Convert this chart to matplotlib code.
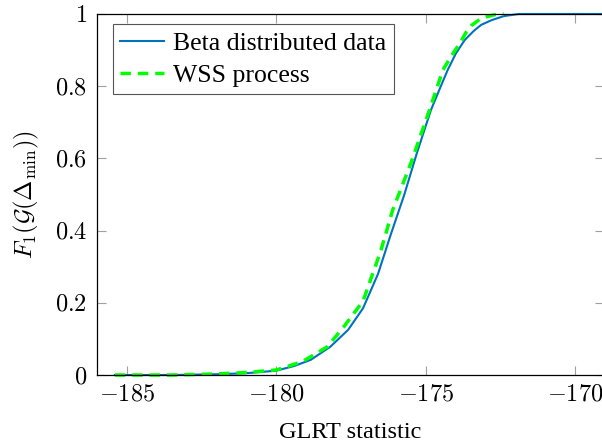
import matplotlib.pyplot as plt

# CDF curves
beta_x = [-185.4, -183.5, -182.0, -181.0, -180.0, -179.4, -178.85, -178.2, -177.6, -177.1,
          -176.6, -176.17, -175.72, -175.3, -174.83, -174.5, -174.27, -174.0, -173.7,
          -173.4, -173.15, -172.8, -172.4, -171.9, -169.0]
beta_y = [0.0, 0.0, 0.002, 0.005, 0.012, 0.025, 0.042, 0.078, 0.125, 0.185,
          0.28, 0.39, 0.50, 0.615, 0.734, 0.80, 0.845, 0.89, 0.928,
          0.953, 0.97, 0.983, 0.994, 1.0, 1.0]

wss_x = [-185.4, -183.5, -182.0, -181.0, -180.0, -179.13, -178.3, -177.74, -177.1, -176.5,
         -176.11, -175.5, -174.88, -174.43, -174.1, -173.87, -173.65, -173.48, -173.2,
         -172.98, -172.7, -172.4]
wss_y = [0.0, 0.0, 0.003, 0.007, 0.014, 0.037, 0.078, 0.134, 0.205, 0.346,
         0.457, 0.587, 0.734, 0.845, 0.89, 0.918, 0.95, 0.968, 0.985,
         0.992, 0.998, 1.0]

x_ticks = [-185, -180, -175, -170]
y_ticks = [0, 0.2, 0.4, 0.6, 0.8, 1]
y_tick_labels = ["0", "0.2", "0.4", "0.6", "0.8", "1"]

plt.rcParams['mathtext.fontset'] = 'cm'
plt.rcParams['font.family'] = 'serif'
plt.rcParams['font.serif'] = ['Liberation Serif', 'DejaVu Serif']

fs = 17.5
fig = plt.figure(figsize=(6.02, 4.44), dpi=100)
ax = fig.add_axes([0.161, 0.1554, 0.842, 0.8131])

ax.plot(beta_x, beta_y, color='#0072BD', linewidth=1.5, label='Beta distributed data', clip_on=False)
ax.plot(wss_x, wss_y, color='#00FF00', linewidth=2.5, linestyle=(0, (3, 2)), label='WSS process', clip_on=False)

ax.set_xlim(-186, -169.05)
ax.set_ylim(0, 1)
ax.set_xticks(x_ticks)
ax.set_xticklabels([f"$-{abs(t)}$" for t in x_ticks])
ax.set_yticks(y_ticks)
ax.set_yticklabels([f"${s}$" for s in y_tick_labels])
ax.tick_params(direction='in', length=6.5, width=0.8, color='#a0a0a0',
               top=True, right=True, labelsize=fs, pad=7)
for s in ax.spines.values():
    s.set_linewidth(0.9)

ax.set_xlabel("GLRT statistic", fontsize=fs, labelpad=12)
ax.set_ylabel(r"$F_1(\mathcal{G}(\Delta_{\min}))$", fontsize=fs)
ax.yaxis.set_label_coords(-0.11, 0.5)

leg = ax.legend(loc='upper left', bbox_to_anchor=(0.031, 0.972), fontsize=18.5,
                frameon=True, fancybox=False, edgecolor='#555555', framealpha=1,
                handlelength=1.7, handletextpad=0.35, borderpad=0.3, labelspacing=0.35,
                borderaxespad=0)
leg.get_frame().set_linewidth(0.8)

fig.savefig("out.png", dpi=100)
